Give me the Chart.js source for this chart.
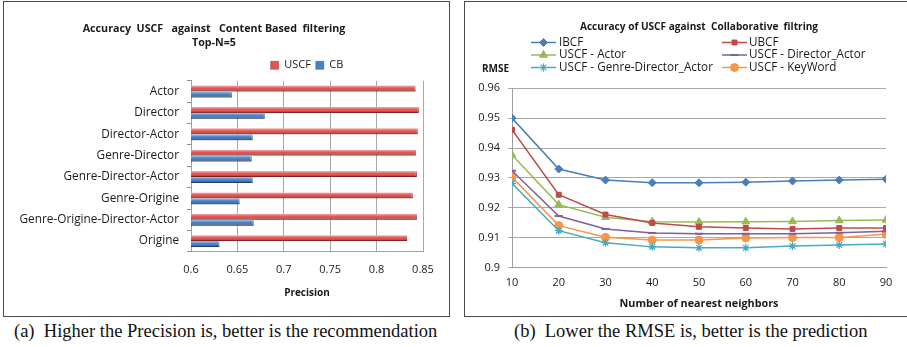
<!DOCTYPE html>
<html>
<head>
<meta charset="utf-8">
<script src="https://cdn.jsdelivr.net/npm/chart.js@4.4.0/dist/chart.umd.min.js"></script>
<style>
  html, body { margin: 0; padding: 0; background: #fff; width: 907px; height: 347px; overflow: hidden; }
  .panel { position: absolute; border: 1.5px solid #4a4a4a; box-sizing: border-box; }
  #panelA { left: 3px; top: 1px; width: 447px; height: 316px; }
  #panelB { left: 464px; top: 1px; width: 460px; height: 316px; }
  canvas { position: absolute; }
  #precisionChart { left: 5px; top: 2px; }
  #rmseChart { left: 465px; top: 2px; }
  .caption { position: absolute; top: 321px; font-family: "Liberation Serif", "Times New Roman", serif;
             font-size: 18.5px; color: #111; white-space: nowrap; }
  #capA { left: 14px; }
  #capB { left: 514px; }
</style>
</head>
<body>
<div class="panel" id="panelA"></div>
<div class="panel" id="panelB"></div>
<canvas id="precisionChart" width="444" height="314"></canvas>
<canvas id="rmseChart" width="442" height="314"></canvas>
<div class="caption" id="capA">(a)&nbsp;&nbsp;Higher the Precision is, better is the recommendation</div>
<div class="caption" id="capB">(b)&nbsp;&nbsp;Lower the RMSE is, better is the prediction</div>

<script>
// ---- Precision of USCF vs content based filtering (Top-N = 5) ----
const featureSets = ['Actor', 'Director', 'Director-Actor', 'Genre-Director', 'Genre-Director-Actor',
                     'Genre-Origine', 'Genre-Origine-Director-Actor', 'Origine'];
const uscfPrecision = [0.842, 0.8455, 0.8444, 0.8423, 0.8434, 0.839, 0.8434, 0.833];
const cbPrecision   = [0.644, 0.6795, 0.6665, 0.6654, 0.6665, 0.6524, 0.6676, 0.6307];
const precisionTickLabels = ['0.6', '0.65', '0.7', '0.75', '0.8', '0.85'];

// ---- RMSE against the number of nearest neighbours ----
const neighbors = [10, 20, 30, 40, 50, 60, 70, 80, 90];
const rmseIBCF          = [0.950, 0.933, 0.9293, 0.9284, 0.9284, 0.9286, 0.9290, 0.9293, 0.9296];
const rmseUBCF          = [0.9461, 0.9244, 0.9178, 0.9150, 0.9137, 0.9133, 0.9130, 0.9133, 0.9133];
const rmseActor         = [0.9377, 0.9211, 0.9169, 0.9154, 0.9153, 0.9154, 0.9155, 0.9158, 0.9160];
const rmseDirActor      = [0.9324, 0.9173, 0.9130, 0.9116, 0.9114, 0.9114, 0.9114, 0.9117, 0.9122];
const rmseGenreDirActor = [0.9282, 0.9124, 0.9084, 0.9070, 0.9067, 0.9067, 0.9073, 0.9076, 0.9080];
const rmseKeyWord       = [0.9303, 0.9141, 0.9102, 0.9093, 0.9093, 0.9100, 0.9101, 0.9101, 0.9112];
const rmseTickLabels = ['0.9', '0.91', '0.92', '0.93', '0.94', '0.95', '0.96'];

const UI_FONT = '"Open Sans", "Liberation Sans", sans-serif';
const TEXT = '#1a1a1a';

// Glossy cylinder look for the horizontal bars (kept inside the plot area)
const barShine = {
  id: 'barShine',
  afterDatasetsDraw(chart) {
    const ctx = chart.ctx;
    const area = chart.chartArea;
    chart.data.datasets.forEach((ds, di) => {
      chart.getDatasetMeta(di).data.forEach(bar => {
        const p = bar.getProps(['x', 'y', 'base', 'height'], true);
        const x0 = Math.max(area.left, Math.min(p.base, p.x));
        const x1 = Math.min(area.right, Math.max(p.base, p.x));
        const y0 = p.y - p.height / 2, y1 = p.y + p.height / 2;
        const g = ctx.createLinearGradient(0, y0, 0, y1);
        g.addColorStop(0, 'rgba(255,255,255,0.55)');
        g.addColorStop(0.4, 'rgba(255,255,255,0.05)');
        g.addColorStop(0.6, 'rgba(0,0,0,0)');
        g.addColorStop(1, 'rgba(0,0,0,0.35)');
        ctx.save();
        ctx.fillStyle = g;
        ctx.fillRect(x0, y0, x1 - x0, y1 - y0);
        ctx.restore();
      });
    });
  }
};

new Chart(document.getElementById('precisionChart'), {
  type: 'bar',
  data: {
    labels: featureSets,
    datasets: [
      { label: 'USCF', data: uscfPrecision, backgroundColor: '#e35452', borderColor: '#a83331',
        borderWidth: { top: 0, bottom: 1, right: 1, left: 0 }, borderSkipped: false },
      { label: 'CB', data: cbPrecision, backgroundColor: '#4b7fc4', borderColor: '#2c568e',
        borderWidth: { top: 0, bottom: 1, right: 1, left: 0 }, borderSkipped: false }
    ]
  },
  options: {
    indexAxis: 'y',
    responsive: false,
    animation: false,
    datasets: { bar: { categoryPercentage: 0.56, barPercentage: 1 } },
    layout: { padding: { left: 0, right: 26, top: 0, bottom: 17 } },
    plugins: {
      tooltip: { enabled: false },
      title: {
        display: true,
        text: ['Accuracy  USCF   against   Content Based  filtering', 'Top-N=5'],
        font: { family: UI_FONT, size: 10.7, weight: 'bold', lineHeight: 1.3 },
        color: TEXT,
        padding: { top: 20, bottom: 5 }
      },
      legend: {
        position: 'top',
        fullSize: false,
        labels: {
          boxWidth: 8, boxHeight: 8, padding: 5,
          font: { family: UI_FONT, size: 11 }, color: TEXT
        }
      }
    },
    scales: {
      x: {
        min: 0.6, max: 0.85,
        ticks: { stepSize: 0.05, padding: 11, color: TEXT, font: { family: UI_FONT, size: 11 },
                 callback: (v, i) => precisionTickLabels[i] },
        grid: { color: '#a8a8a8', drawTicks: false },
        border: { color: '#a0a0a0' },
        title: { display: true, text: 'Precision', color: TEXT,
                 font: { family: UI_FONT, size: 10, weight: 'bold' }, padding: { top: 0, bottom: 0 } }
      },
      y: {
        ticks: { color: TEXT, padding: 8, font: { family: UI_FONT, size: 11.8 } },
        grid: { drawOnChartArea: false, drawTicks: true, tickLength: 4, color: '#909090' },
        border: { color: '#a0a0a0' },
        afterFit: s => { s.width = 186; }
      }
    }
  },
  plugins: [barShine]
});

// Two-column legend and the horizontal "RMSE" axis caption
const rmseLegend = {
  id: 'rmseLegend',
  afterDraw(chart) {
    const ctx = chart.ctx;
    const cols = [{ lx: 66, tx: 94 }, { lx: 257, tx: 284 }];
    const rows = [40.5, 53, 65.5];
    ctx.save();
    chart.data.datasets.forEach((ds, i) => {
      const c = cols[i % 2], y = rows[Math.floor(i / 2)];
      ctx.strokeStyle = ds.borderColor;
      ctx.lineWidth = 1.5;
      ctx.beginPath(); ctx.moveTo(c.lx, y); ctx.lineTo(c.lx + 25, y); ctx.stroke();
      ctx.fillStyle = ds.pointBackgroundColor;
      ctx.strokeStyle = ds.pointBorderColor;
      ctx.lineWidth = ds.pointBorderWidth;
      Chart.helpers.drawPoint(ctx, { pointStyle: ds.pointStyle, radius: ds.pointRadius,
                                     borderWidth: ds.pointBorderWidth, rotation: 0 }, c.lx + 12.5, y);
      ctx.fillStyle = TEXT;
      ctx.font = '11.7px ' + UI_FONT;
      ctx.textBaseline = 'middle';
      ctx.textAlign = 'left';
      ctx.fillText(ds.label, c.tx, y);
    });
    ctx.font = 'bold 10px ' + UI_FONT;
    ctx.textBaseline = 'middle';
    ctx.fillText('RMSE', 17, 67);
    ctx.restore();
  }
};

function series(label, data, color, style, radius, bw) {
  return {
    label, data, borderColor: color, backgroundColor: color,
    pointBackgroundColor: color, pointBorderColor: color,
    pointStyle: style, pointRadius: radius, pointBorderWidth: bw,
    borderWidth: 1.5, tension: 0
  };
}

new Chart(document.getElementById('rmseChart'), {
  type: 'line',
  data: {
    labels: neighbors,
    datasets: [
      series('IBCF', rmseIBCF, '#4a7ebb', 'rectRot', 4, 1),
      series('UBCF', rmseUBCF, '#be4b48', 'rect', 3.5, 1),
      series('USCF - Actor', rmseActor, '#98b954', 'triangle', 4.5, 1),
      series('USCF - Director_Actor', rmseDirActor, '#7d60a0', 'line', 4, 2),
      series('USCF - Genre-Director_Actor', rmseGenreDirActor, '#46aac5', 'star', 4, 1.2),
      series('USCF - KeyWord', rmseKeyWord, '#f79646', 'circle', 4, 1)
    ]
  },
  options: {
    responsive: false,
    animation: false,
    layout: { padding: { left: 0, right: 21, top: 0, bottom: 6 } },
    plugins: {
      tooltip: { enabled: false },
      legend: { display: false },
      title: {
        display: true,
        fullSize: false,
        text: 'Accuracy of USCF against  Collaborative  filtring',
        font: { family: UI_FONT, size: 10.1, weight: 'bold', lineHeight: 1.2 },
        color: TEXT,
        padding: { top: 19, bottom: 55 }
      }
    },
    scales: {
      x: {
        type: 'linear', min: 10, max: 90,
        ticks: { stepSize: 10, padding: 8, color: TEXT, font: { family: UI_FONT, size: 11 } },
        grid: { drawOnChartArea: false, drawTicks: false },
        border: { color: '#a0a0a0' },
        title: { display: true, text: 'Number of nearest neighbors', color: TEXT,
                 font: { family: UI_FONT, size: 10.8, weight: 'bold' }, padding: { top: 0, bottom: 0 } }
      },
      y: {
        min: 0.9, max: 0.96,
        ticks: { stepSize: 0.01, padding: 8, color: TEXT, font: { family: UI_FONT, size: 11 },
                 callback: (v, i) => rmseTickLabels[i] },
        grid: { color: '#a8a8a8', tickLength: 4 },
        border: { color: '#a0a0a0' },
        afterFit: s => { s.width = 47; }
      }
    }
  },
  plugins: [rmseLegend]
});
</script>
</body>
</html>
